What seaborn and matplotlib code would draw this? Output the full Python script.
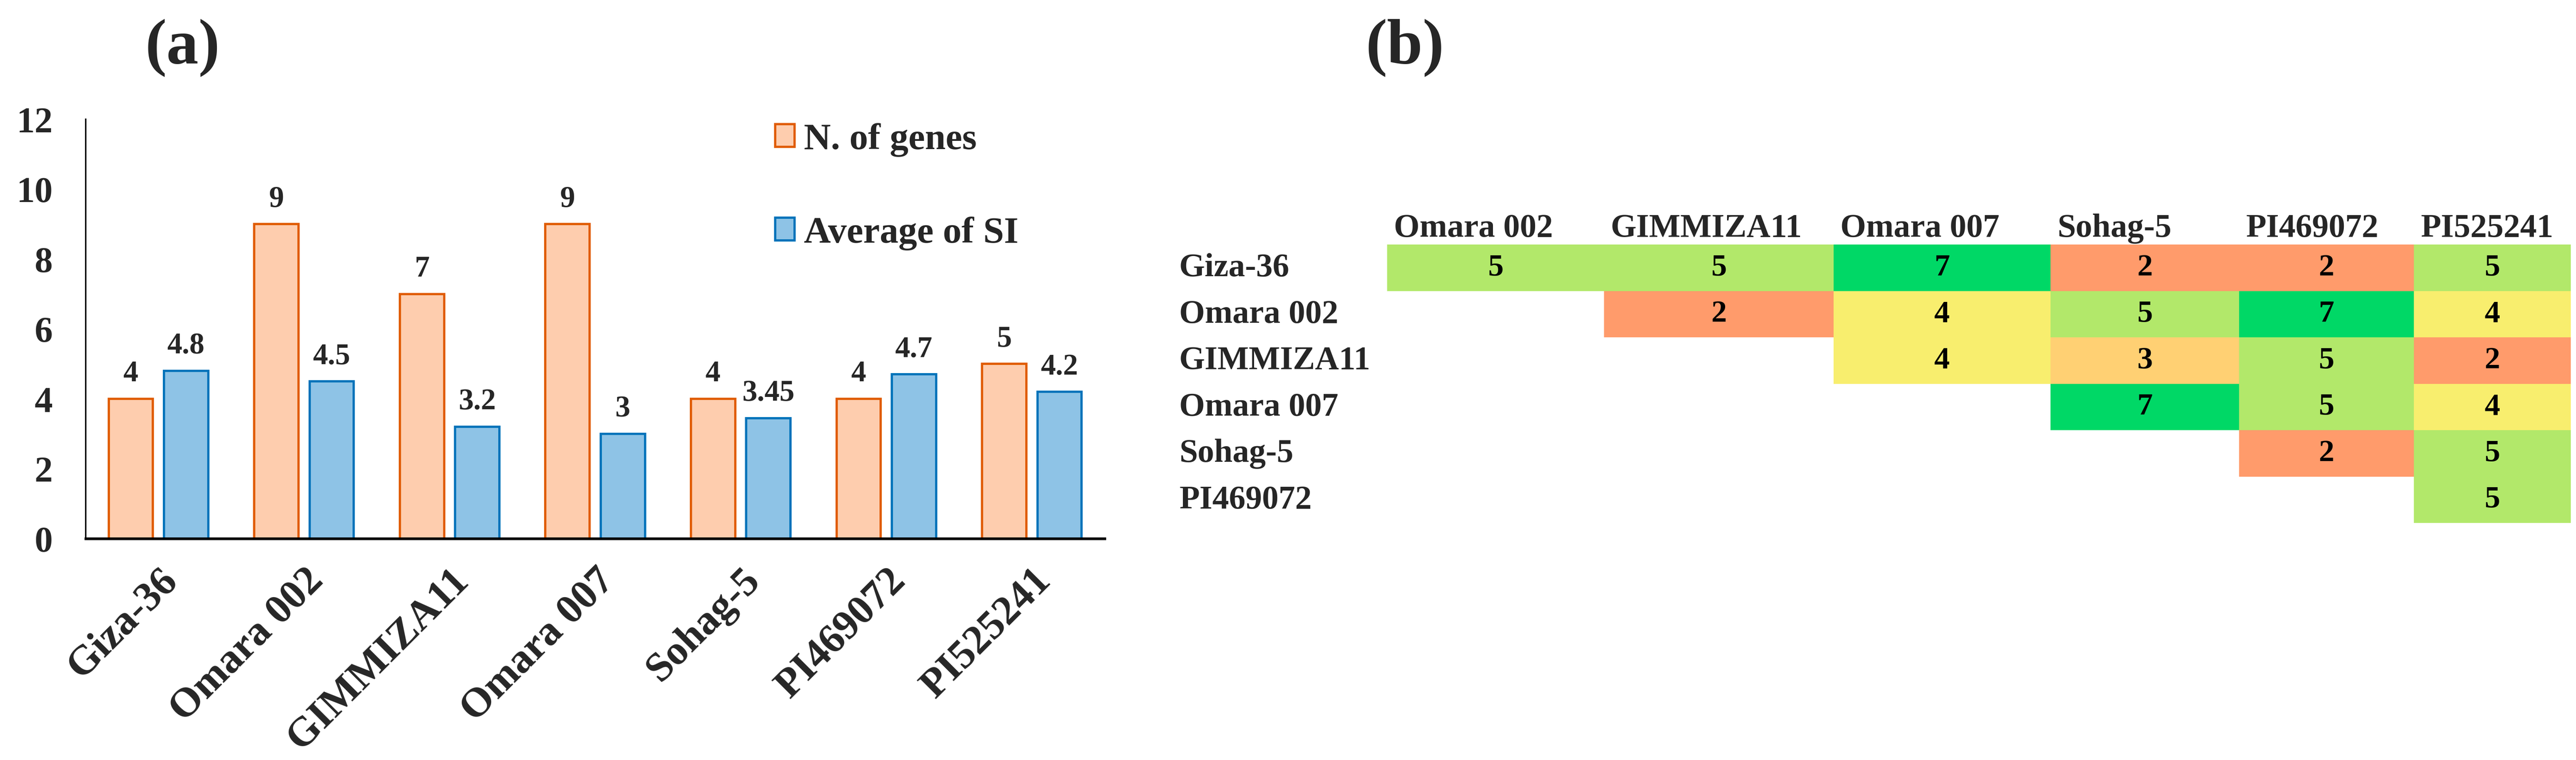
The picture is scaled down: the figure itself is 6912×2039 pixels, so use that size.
import numpy as np
import pandas as pd
import matplotlib
matplotlib.use('Agg')
import matplotlib.pyplot as plt
from matplotlib.colors import LinearSegmentedColormap
from matplotlib.patches import Patch
import seaborn as sns

# data
genotypes = ['Giza-36', 'Omara 002', 'GIMMIZA11', 'Omara 007', 'Sohag-5', 'PI469072', 'PI525241']
n_genes = [4, 9, 7, 9, 4, 4, 5]
avg_si = [4.8, 4.5, 3.2, 3, 3.45, 4.7, 4.2]
series_names = ['N. of genes', 'Average of SI']

heat_rows = ['Giza-36', 'Omara 002', 'GIMMIZA11', 'Omara 007', 'Sohag-5', 'PI469072']
heat_cols = ['Omara 002', 'GIMMIZA11', 'Omara 007', 'Sohag-5', 'PI469072', 'PI525241']
heat_vals = [[5, 5, 7, 2, 2, 5],
             [np.nan, 2, 4, 5, 7, 4],
             [np.nan, np.nan, 4, 3, 5, 2],
             [np.nan, np.nan, np.nan, 7, 5, 4],
             [np.nan, np.nan, np.nan, np.nan, 2, 5],
             [np.nan, np.nan, np.nan, np.nan, np.nan, 5]]

sns.set_style('white')
plt.rcParams['font.family'] = ['Liberation Serif', 'DejaVu Serif']
plt.rcParams['font.weight'] = 'bold'

W, H = 6912, 2040
fig = plt.figure(figsize=(W / 200, H / 200), dpi=200)

orange_fill, orange_edge = '#FECDAE', '#E05C00'
blue_fill, blue_edge = '#8EC3E6', '#0073BA'

# (a) bar chart
ax = fig.add_axes([230 / W, (H - 1446) / H, 2734 / W, 1125 / H])
df = pd.DataFrame({'Genotype': genotypes * 2,
                   'Series': [series_names[0]] * 7 + [series_names[1]] * 7,
                   'Value': n_genes + avg_si})
sns.barplot(data=df, x='Genotype', y='Value', hue='Series',
            palette=[orange_fill, blue_fill], saturation=1,
            width=0.76, gap=0.2, legend=False, ax=ax)
for cont, ec in zip(ax.containers, [orange_edge, blue_edge]):
    for bar in cont:
        bar.set_edgecolor(ec)
        bar.set_linewidth(2.2)
    ax.bar_label(cont, fmt='%g', padding=11, fontsize=29, fontweight='bold')

ax.set_xlim(-0.5, 6.5)
ax.set_ylim(0, 12)
ax.set_yticks(range(0, 13, 2))
ax.set_xlabel('')
ax.set_ylabel('')
ax.tick_params(axis='y', length=0, pad=32, labelsize=35)
ax.tick_params(axis='x', length=0, pad=22, labelsize=40)
plt.setp(ax.get_xticklabels(), rotation=45, ha='right', rotation_mode='anchor')
for s in ['top', 'right']:
    ax.spines[s].set_visible(False)
ax.spines['left'].set_linewidth(1.4)
ax.spines['left'].set_color('black')
ax.spines['bottom'].set_linewidth(2.6)
ax.spines['bottom'].set_color('black')

handles = [Patch(facecolor=orange_fill, edgecolor=orange_edge, linewidth=2.2),
           Patch(facecolor=blue_fill, edgecolor=blue_edge, linewidth=2.2)]
fig.legend(handles, series_names, loc='upper left',
           bbox_to_anchor=(2080 / W, 1 - 330 / H), frameon=False, fontsize=36,
           handlelength=0.52, handleheight=0.56, handletextpad=0.25,
           labelspacing=1.6, borderpad=0, borderaxespad=0)

fig.text(490 / W, 1 - 128 / H, '(a)', ha='center', va='center', fontsize=62, fontweight='bold')
fig.text(3770 / W, 1 - 128 / H, '(b)', ha='center', va='center', fontsize=62, fontweight='bold')

# (b) heatmap, one axes per column so widths follow the table
cmap = LinearSegmentedColormap.from_list(
    'rg', [(0.0, '#FF9B6B'), (0.2, '#FFD073'), (0.4, '#F8EE6E'),
           (0.6, '#B2E86A'), (1.0, '#00D866')])
heat_df = pd.DataFrame(heat_vals, index=heat_rows, columns=heat_cols)
col_edges = [3722, 4304, 4920, 5502, 6008, 6477, 6898]
top, bottom = 657, 1404
row_h = (bottom - top) / len(heat_rows)

for j, col in enumerate(heat_cols):
    axj = fig.add_axes([col_edges[j] / W, (H - bottom) / H,
                        (col_edges[j + 1] - col_edges[j]) / W, (bottom - top) / H])
    sns.heatmap(heat_df[[col]], ax=axj, cmap=cmap, vmin=2, vmax=7,
                annot=True, fmt='g', cbar=False, xticklabels=False, yticklabels=False,
                annot_kws={'fontsize': 30, 'fontweight': 'bold', 'color': 'black'})
    axj.set_xlabel('')
    axj.set_ylabel('')
    fig.text((col_edges[j] + 18) / W, 1 - 635 / H, col, ha='left', va='baseline',
             fontsize=32, fontweight='bold')

for i, r in enumerate(heat_rows):
    fig.text(3164 / W, 1 - (top + row_h * (i + 0.5)) / H, r, ha='left', va='center',
             fontsize=32, fontweight='bold')

fig.savefig('out.png', dpi=200)
